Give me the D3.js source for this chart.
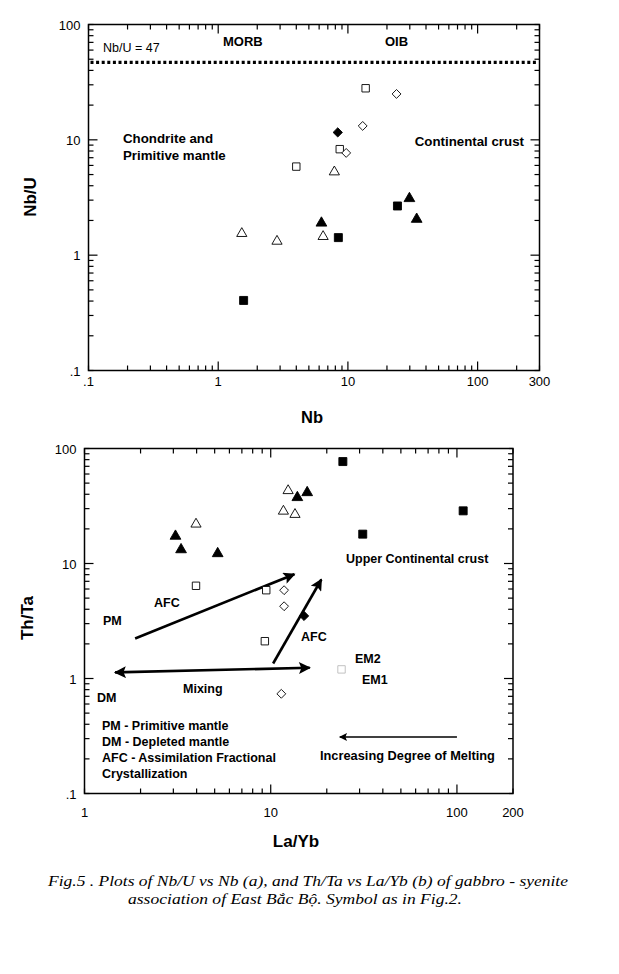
<!DOCTYPE html>
<html>
<head>
<meta charset="utf-8">
<script src="https://cdn.jsdelivr.net/npm/d3@7"></script>
<style>
  body { margin: 0; background: #fff; }
  svg { display: block; }
  text { font-family: "Liberation Sans", Arial, sans-serif; fill: #000; }
  .bold { font-weight: bold; }
  .caption { font-family: "Liberation Serif", "Times New Roman", serif; font-style: italic; }
</style>
</head>
<body>
<svg id="chart" width="619" height="974"></svg>
<script>
// ---- data: (a) Nb/U vs Nb ----
// symbol codes: S/s square filled/open, T/t triangle, D/d diamond
var aNb  = [13.7, 23.7, 8.35, 13, 8.65, 9.7, 4.0, 7.86, 29.8, 24.1, 33.9, 6.25, 1.52, 2.84, 6.44, 8.44, 1.57];
var aNbU = [28, 25, 11.6, 13.2, 8.3, 7.7, 5.86, 5.27, 3.1, 2.67, 2.05, 1.9, 1.54, 1.32, 1.45, 1.42, 0.405];
var aSym = ["s", "d", "D", "d", "s", "d", "s", "t", "T", "S", "T", "T", "t", "t", "t", "S", "S"];
var aXTicks = [0.1, 1, 10, 100, 300];
var aXTickText = [".1", "1", "10", "100", "300"];
var aYTicks = [0.1, 1, 10, 100];
var aYTickText = [".1", "1", "10", "100"];
var nbuLine = 47;

// ---- data: (b) Th/Ta vs La/Yb ----
var bLaYb = [24.4, 108, 31.2, 12.4, 13.9, 15.7, 11.7, 13.5, 3.97, 3.08, 3.30, 5.19, 3.97, 9.46, 11.8, 11.8, 15.1, 9.3, 24, 11.4];
var bThTa = [77, 28.7, 18, 43, 37.5, 41.4, 28.5, 26.7, 22, 17.3, 13.2, 12.2, 6.4, 5.86, 5.86, 4.25, 3.5, 2.11, 1.2, 0.736];
var bSym  = ["S", "S", "S", "t", "T", "T", "t", "t", "t", "T", "T", "T", "s", "s", "d", "d", "D", "s", "g", "d"];
var bXTicks = [1, 10, 100, 200];
var bXTickText = ["1", "10", "100", "200"];
var bYTicks = [0.1, 1, 10, 100];
var bYTickText = [".1", "1", "10", "100"];
// arrows [x1, y1, x2, y2] in data units
var afcArrows = [[1.87, 2.23, 13.4, 8.07], [10.3, 1.35, 18.7, 7.26]];
var mixArrow = [1.46, 1.13, 16.2, 1.24];
var meltArrow = [100, 0.31, 23.5, 0.31];

var svg = d3.select("#chart");

function minorTicks(lo, hi){
    var out = [];
    for (var e = Math.floor(Math.log10(lo)); e <= Math.ceil(Math.log10(hi)); e++){
        for (var m = 1; m <= 9; m++){
            var v = m * Math.pow(10, e);
            if (v >= lo * 0.999 && v <= hi * 1.001) out.push(v);
        }
    }
    return out;
}

function frame(g, x, y, xMajor, yMajor){
    var xd = x.domain(), yd = y.domain();
    var x0 = x.range()[0], x1 = x.range()[1];
    var y0 = y.range()[0], y1 = y.range()[1];
    var majX = xMajor.filter(function(v){ return v > xd[0] && v < xd[1]; });
    var majY = yMajor.filter(function(v){ return v > yd[0] && v < yd[1]; });
    var tk = g.append("g").attr("stroke", "#000").attr("stroke-width", 1.2);
    minorTicks(xd[0], xd[1]).forEach(function(v){
        var big = majX.indexOf(v) >= 0, L = big ? 9 : 5;
        tk.append("line").attr("x1", x(v)).attr("x2", x(v)).attr("y1", y0).attr("y2", y0 - L);
        tk.append("line").attr("x1", x(v)).attr("x2", x(v)).attr("y1", y1).attr("y2", y1 + L);
    });
    minorTicks(yd[0], yd[1]).forEach(function(v){
        var big = majY.indexOf(v) >= 0, L = big ? 9 : 5;
        tk.append("line").attr("y1", y(v)).attr("y2", y(v)).attr("x1", x0).attr("x2", x0 + L);
        tk.append("line").attr("y1", y(v)).attr("y2", y(v)).attr("x1", x1).attr("x2", x1 - L);
    });
    g.append("rect").attr("x", x0).attr("y", y1).attr("width", x1 - x0).attr("height", y0 - y1)
        .attr("fill", "none").attr("stroke", "#000").attr("stroke-width", 1.5);
}

function tickLabels(g, x, y, xv, xt, yv, yt, dy){
    var y0 = y.range()[0], x0 = x.range()[0];
    xv.forEach(function(v, i){
        g.append("text").attr("x", x(v)).attr("y", y0 + dy).attr("text-anchor", "middle")
            .attr("font-size", 13).text(xt[i]);
    });
    yv.forEach(function(v, i){
        g.append("text").attr("x", x0 - 8).attr("y", y(v) + 5).attr("text-anchor", "end")
            .attr("font-size", 13).text(yt[i]);
    });
}

function marks(g, x, y, xs, ys, syms){
    var types = { s: d3.symbolSquare, S: d3.symbolSquare, g: d3.symbolSquare,
                  t: d3.symbolTriangle, T: d3.symbolTriangle, d: d3.symbolDiamond2, D: d3.symbolDiamond2 };
    var sizes = { s: 55, S: 64, g: 55, t: 45, T: 50, d: 50, D: 55 };
    g.selectAll(null).data(xs).enter().append("path")
        .attr("transform", function(d, i){ return "translate(" + x(d) + "," + y(ys[i]) + ")"; })
        .attr("d", function(d, i){ return d3.symbol().type(types[syms[i]]).size(sizes[syms[i]])(); })
        .attr("fill", function(d, i){ return syms[i] === syms[i].toUpperCase() && syms[i] !== "g" ? "#000" : "#fff"; })
        .attr("stroke", function(d, i){ return syms[i] === "g" ? "#bbb" : "#000"; })
        .attr("stroke-width", 0.9);
}

function text(g, x, y, s, opts){
    opts = opts || {};
    g.append("text").attr("x", x).attr("y", y)
        .attr("font-size", opts.size || 12.5)
        .attr("font-weight", opts.bold === false ? "normal" : "bold")
        .attr("text-anchor", opts.anchor || "start")
        .text(s);
}

// ================= (a) =================
var xa = d3.scaleLog().domain([0.1, 300]).range([88.5, 539.5]);
var ya = d3.scaleLog().domain([0.1, 100]).range([370.5, 24.5]);
var ga = svg.append("g");
frame(ga, xa, ya, [1, 10, 100], [1, 10]);
tickLabels(ga, xa, ya, aXTicks, aXTickText, aYTicks, aYTickText, 15);

ga.append("line").attr("x1", xa(0.1) + 2).attr("x2", xa(300) - 1)
    .attr("y1", ya(nbuLine)).attr("y2", ya(nbuLine))
    .attr("stroke", "#000").attr("stroke-width", 3.2).attr("stroke-dasharray", "3,2.6");

text(ga, 103, 52, "Nb/U = 47", { bold: false, size: 12.5 });
text(ga, 223, 46, "MORB", { size: 13 });
text(ga, 385, 46, "OIB", { size: 13 });
text(ga, 123, 143, "Chondrite and", { size: 13.3 });
text(ga, 123, 160, "Primitive mantle", { size: 13.3 });
text(ga, 524, 146, "Continental crust", { anchor: "end", size: 13.3 });

marks(ga, xa, ya, aNb, aNbU, aSym);

ga.append("text").attr("transform", "translate(36,197) rotate(-90)").attr("text-anchor", "middle")
    .attr("class", "bold").attr("font-size", 17).text("Nb/U");
ga.append("text").attr("x", 312).attr("y", 423).attr("text-anchor", "middle")
    .attr("class", "bold").attr("font-size", 16.5).text("Nb");

// ================= (b) =================
var xb = d3.scaleLog().domain([1, 200]).range([84.5, 513]);
var yb = d3.scaleLog().domain([0.1, 100]).range([793.5, 448.5]);
var gb = svg.append("g");
frame(gb, xb, yb, [10, 100], [1, 10]);
tickLabels(gb, xb, yb, bXTicks, bXTickText, bYTicks, bYTickText, 23);

var defs = svg.append("defs");
defs.append("marker").attr("id", "headBig").attr("viewBox", "0 0 10 10")
    .attr("refX", 9).attr("refY", 5).attr("markerUnits", "userSpaceOnUse")
    .attr("markerWidth", 16).attr("markerHeight", 12).attr("orient", "auto-start-reverse")
    .append("path").attr("d", "M0,0 L10,5 L0,10 L2,5 Z").attr("fill", "#000");
defs.append("marker").attr("id", "headSmall").attr("viewBox", "0 0 10 10")
    .attr("refX", 9).attr("refY", 5).attr("markerUnits", "userSpaceOnUse")
    .attr("markerWidth", 11).attr("markerHeight", 8).attr("orient", "auto")
    .append("path").attr("d", "M0,0 L10,5 L0,10 L2,5 Z").attr("fill", "#000");

afcArrows.forEach(function(a){
    gb.append("line").attr("x1", xb(a[0])).attr("y1", yb(a[1])).attr("x2", xb(a[2])).attr("y2", yb(a[3]))
        .attr("stroke", "#000").attr("stroke-width", 2.6).attr("marker-end", "url(#headBig)");
});
gb.append("line").attr("x1", xb(mixArrow[0])).attr("y1", yb(mixArrow[1]))
    .attr("x2", xb(mixArrow[2])).attr("y2", yb(mixArrow[3]))
    .attr("stroke", "#000").attr("stroke-width", 2.6)
    .attr("marker-start", "url(#headBig)").attr("marker-end", "url(#headBig)");
gb.append("line").attr("x1", xb(meltArrow[0])).attr("y1", yb(meltArrow[1]))
    .attr("x2", xb(meltArrow[2])).attr("y2", yb(meltArrow[3]))
    .attr("stroke", "#000").attr("stroke-width", 1.5).attr("marker-end", "url(#headSmall)");

marks(gb, xb, yb, bLaYb, bThTa, bSym);

text(gb, 346, 563, "Upper Continental crust");
text(gb, 154, 607, "AFC");
text(gb, 103, 625, "PM");
text(gb, 301, 641, "AFC");
text(gb, 355, 663, "EM2");
text(gb, 362, 684, "EM1");
text(gb, 183, 693, "Mixing");
text(gb, 97, 702, "DM");
text(gb, 102, 730, "PM - Primitive mantle");
text(gb, 102, 746, "DM - Depleted mantle");
text(gb, 102, 762, "AFC - Assimilation Fractional");
text(gb, 102, 778, "Crystallization");
text(gb, 320, 760, "Increasing Degree of Melting", { size: 12.8 });

gb.append("text").attr("transform", "translate(33,618) rotate(-90)").attr("text-anchor", "middle")
    .attr("class", "bold").attr("font-size", 17).text("Th/Ta");
gb.append("text").attr("x", 296).attr("y", 847).attr("text-anchor", "middle")
    .attr("class", "bold").attr("font-size", 17).text("La/Yb");

// caption
svg.append("text").attr("class", "caption").attr("x", 48).attr("y", 886)
    .attr("font-size", 15.5).attr("textLength", 520).attr("lengthAdjust", "spacingAndGlyphs")
    .text("Fig.5 . Plots of Nb/U vs Nb (a), and  Th/Ta vs La/Yb (b) of gabbro - syenite");
svg.append("text").attr("class", "caption").attr("x", 128).attr("y", 904)
    .attr("font-size", 15.5).attr("textLength", 334).attr("lengthAdjust", "spacingAndGlyphs")
    .text("association of East Bắc Bộ. Symbol as in Fig.2.");
</script>
</body>
</html>
